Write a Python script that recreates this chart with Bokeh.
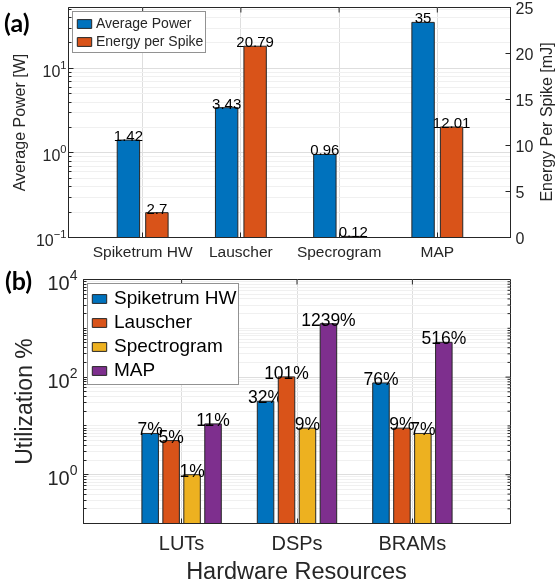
import math
from bokeh.plotting import figure
from bokeh.models import (Range1d, LinearAxis, LinearScale, FixedTicker, Legend, LegendItem,
                          ColumnDataSource, Div)
from bokeh.embed import file_html
from bokeh.resources import INLINE
from bokeh.core.properties import value

# ---------------- data: panel (a) ----------------
systems = ["Spiketrum HW", "Lauscher", "Specrogram", "MAP"]
avg_power = [1.42, 3.43, 0.96, 35]
avg_power_labels = ["1.42", "3.43", "0.96", "35"]
energy_per_spike = [2.7, 20.79, 0.12, 12.01]
energy_labels = ["2.7", "20.79", "0.12", "12.01"]

# ---------------- data: panel (b) ----------------
resources = ["LUTs", "DSPs", "BRAMs"]
series_names = ["Spiketrum HW", "Lauscher", "Spectrogram", "MAP"]
util_spiketrum = [7, 32, 76]
util_lauscher = [5, 101, 9]
util_spectrogram = [1, 9, 7]
util_map = [11, 1239, 516]
util_labels = [["7%", "32%", "76%"], ["5%", "101%", "9%"], ["1%", "9%", "7%"], ["11%", "1239%", "516%"]]

BLUE, ORANGE, YELLOW, PURPLE = "#0072BD", "#D95319", "#EDB120", "#7E2F8E"
AX = "#262626"
EDGE = "#262626"
FONT = "Liberation Sans"


def style_axis(ax, fs, lfs=None):
    ax.axis_line_color = AX
    ax.axis_line_width = 1
    ax.major_tick_line_color = AX
    ax.minor_tick_line_color = AX
    ax.major_tick_in = 5
    ax.major_tick_out = 0
    ax.minor_tick_in = 3
    ax.minor_tick_out = 0
    ax.major_label_text_font = FONT
    ax.major_label_text_font_size = fs
    ax.major_label_text_color = AX
    ax.axis_label_text_font = FONT
    ax.axis_label_text_font_style = "normal"
    ax.axis_label_text_color = AX
    if lfs:
        ax.axis_label_text_font_size = lfs


def inner_ticks(p, xs, ys, angle, length, **kw):
    p.ray(x=xs, y=ys, length=length, length_units="screen", angle=angle,
          line_color=AX, line_width=1, **kw)


# ======================= panel (a) =======================
XA_RANGE = (0.245, 4.745)
YA_RANGE = (0.1, 52.5)
xa = [i + 1 for i in range(len(systems))]
p1 = figure(width=556, height=262, output_backend="svg", toolbar_location=None,
            y_axis_type="log", x_range=Range1d(*XA_RANGE), y_range=Range1d(*YA_RANGE),
            min_border_left=68, min_border_right=46, min_border_top=7, min_border_bottom=25,
            styles={"position": "fixed", "left": "0px", "top": "0px"})
p1.extra_y_ranges = {"right": Range1d(0, 25)}
p1.extra_y_scales = {"right": LinearScale()}
p1.outline_line_color = AX

minor_a = [m * 10.0 ** e for e in (-1, 0, 1) for m in range(2, 10) if m * 10.0 ** e <= 52]
yt_a = FixedTicker(ticks=[0.1, 1, 10], minor_ticks=minor_a)
xt_a = FixedTicker(ticks=xa, minor_ticks=[])

p1.yaxis[0].ticker = yt_a
p1.yaxis[0].axis_label = "Average Power [W]"
style_axis(p1.yaxis[0], "16px", "16px")
p1.yaxis[0].major_label_standoff = 2
p1.yaxis[0].axis_label_standoff = 5

p1.xaxis[0].ticker = xt_a
p1.xaxis[0].major_label_overrides = {x: s for x, s in zip(xa, systems)}
style_axis(p1.xaxis[0], "15.5px")
p1.xaxis[0].major_label_standoff = 5

ax_r = LinearAxis(y_range_name="right",
                  ticker=FixedTicker(ticks=[0, 5, 10, 15, 20, 25], minor_ticks=[]))
style_axis(ax_r, "16px")
ax_r.major_label_standoff = 5
p1.add_layout(ax_r, "right")

# inward ticks on the top edge
inner_ticks(p1, xa, [YA_RANGE[1]] * len(xa), -math.pi / 2, 5)

p1.xgrid.grid_line_color = "#dedede"
p1.ygrid.grid_line_color = "#dedede"
p1.ygrid.minor_grid_line_color = "#f0f0f0"

src_a = ColumnDataSource(dict(
    x_pw=[x - 0.145 for x in xa], x_en=[x + 0.145 for x in xa],
    pw=avg_power, en=energy_per_spike, pw_lbl=avg_power_labels, en_lbl=energy_labels))

r_pw = p1.vbar(x="x_pw", top="pw", bottom=0.01, width=0.228, source=src_a,
               fill_color=BLUE, line_color=EDGE, line_width=1)
r_en = p1.vbar(x="x_en", top="en", bottom=0, width=0.228, source=src_a, y_range_name="right",
               fill_color=ORANGE, line_color=EDGE, line_width=1)
p1.text(x="x_pw", y="pw", text="pw_lbl", source=src_a, text_align="center",
        text_baseline="alphabetic", y_offset=-4, text_font=value(FONT),
        text_font_size="15px", text_color="black")
p1.text(x="x_en", y="en", text="en_lbl", source=src_a, y_range_name="right", text_align="center",
        text_baseline="alphabetic", y_offset=-4, text_font=value(FONT),
        text_font_size="15px", text_color="black")

leg1 = Legend(items=[LegendItem(label="Average Power", renderers=[r_pw]),
                     LegendItem(label="Energy per Spike", renderers=[r_en])],
              location="top_left", margin=4, padding=2, spacing=0,
              glyph_width=18, glyph_height=11, label_height=18, label_standoff=3,
              label_text_font=FONT, label_text_font_size="14px", label_text_color=AX,
              border_line_color=AX, border_line_width=1, background_fill_alpha=1)
p1.add_layout(leg1)

# ======================= panel (b) =======================
XB_RANGE = (0.15, 3.85)
YB_RANGE = (0.1, 1e4)
xb = [i + 1 for i in range(len(resources))]
p2 = figure(width=556, height=300, output_backend="svg", toolbar_location=None,
            y_axis_type="log", x_range=Range1d(*XB_RANGE), y_range=Range1d(*YB_RANGE),
            min_border_left=83, min_border_right=46, min_border_top=17, min_border_bottom=39,
            styles={"position": "fixed", "left": "0px", "top": "262px"})
p2.outline_line_color = AX

majors_b = [1, 100, 10000]
minor_b = [m * 10.0 ** e for e in range(-1, 4) for m in range(1, 10)
           if not (m == 1 and e in (0, 2))]
yt_b = FixedTicker(ticks=majors_b, minor_ticks=minor_b)
xt_b = FixedTicker(ticks=xb, minor_ticks=[])

p2.yaxis[0].ticker = yt_b
p2.yaxis[0].axis_label = "Utilization %"
style_axis(p2.yaxis[0], "20px", "23px")
p2.yaxis[0].major_label_standoff = 6
p2.yaxis[0].axis_label_standoff = 7

p2.xaxis[0].ticker = xt_b
p2.xaxis[0].major_label_overrides = {x: s for x, s in zip(xb, resources)}
style_axis(p2.xaxis[0], "20px")
p2.xaxis[0].major_label_standoff = 8

# inward ticks on the right and top edges
inner_ticks(p2, [XB_RANGE[1]] * len(majors_b), majors_b, math.pi, 5)
inner_ticks(p2, [XB_RANGE[1]] * len(minor_b), minor_b, math.pi, 3)
inner_ticks(p2, xb, [YB_RANGE[1]] * len(xb), -math.pi / 2, 5)

p2.xgrid.grid_line_color = "#dedede"
p2.ygrid.grid_line_color = "#dedede"
p2.ygrid.minor_grid_line_color = "#f0f0f0"

util_series = [util_spiketrum, util_lauscher, util_spectrogram, util_map]
colors_b = [BLUE, ORANGE, YELLOW, PURPLE]
offsets_b = [-0.2724, -0.0908, 0.0908, 0.2724]
items_b = []
for name, vals, lbls, col, off in zip(series_names, util_series, util_labels, colors_b, offsets_b):
    src = ColumnDataSource(dict(x=[x + off for x in xb], top=vals, lbl=lbls))
    r = p2.vbar(x="x", top="top", bottom=0.01, width=0.143, source=src,
                fill_color=col, line_color=EDGE, line_width=1)
    p2.text(x="x", y="top", text="lbl", source=src, text_align="center",
            text_baseline="alphabetic", y_offset=-4, text_font=value(FONT),
            text_font_size="17.5px", text_color="black")
    items_b.append(LegendItem(label=name, renderers=[r]))

leg2 = Legend(items=items_b, location="top_left", margin=4, padding=2, spacing=0,
              glyph_width=18, glyph_height=11, label_height=24, label_standoff=6,
              label_text_font=FONT, label_text_font_size="19px", label_text_color="black",
              border_line_color=AX, border_line_width=1, background_fill_alpha=1)
p2.add_layout(leg2)

# texts placed in page coordinates (panel tags, right y-axis title, x-axis title)
base = {"position": "fixed", "line-height": "1", "margin": "0", "padding": "0",
        "white-space": "nowrap", "z-index": "10"}
tag = dict(base, **{"font-family": "Lato", "font-weight": "bold", "font-size": "25px",
                    "color": "black"})
tag_a = Div(text="(a)", styles=dict(tag, left="4px", top="10px"))
tag_b = Div(text="(b)", styles=dict(tag, left="5px", top="268px"))
ylab_r = Div(text="Energy Per Spike [mJ]",
             styles=dict(base, **{"font-family": FONT, "font-size": "16px", "color": AX,
                                  "left": "546.5px", "top": "122px",
                                  "transform": "translate(-50%, -50%) rotate(-90deg)"}))
xlab_b = Div(text="Hardware Resources",
             styles=dict(base, **{"font-family": FONT, "font-size": "23.5px", "color": AX,
                                  "left": "296.5px", "top": "560px",
                                  "transform": "translateX(-50%)"}))

# separate roots so that the two plot frames keep their own borders
roots = [p1, p2, tag_a, tag_b, ylab_r, xlab_b]
open("out.html", "w").write(file_html(roots, INLINE))
